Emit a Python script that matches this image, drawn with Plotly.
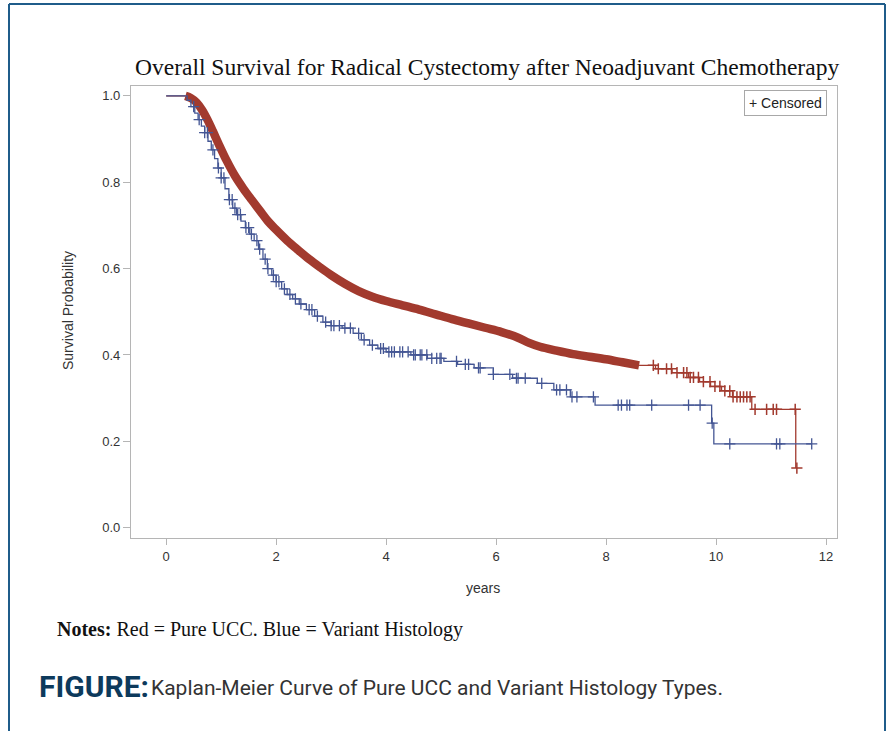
import numpy as np
import plotly.graph_objects as go

# ---------------- data ----------------
red_t = [0, 0.35, 0.45, 0.55, 0.65, 0.75, 0.85, 0.95, 1.1, 1.25, 1.4, 1.55, 1.7, 1.85, 2.0,
         2.2, 2.4, 2.6, 2.8, 3.0, 3.25, 3.5, 3.75, 4.0, 4.3, 4.6, 4.9, 5.2, 5.5, 5.8, 6.1,
         6.4, 6.6, 6.8, 7.1, 7.4, 7.7, 8.0, 8.3, 8.6, 8.9, 9.2, 9.5, 9.7, 9.9, 10.1, 10.3,
         10.65, 11.45]
red_s = [1.0, 1.0, 0.995, 0.985, 0.968, 0.945, 0.918, 0.89, 0.85, 0.815, 0.786, 0.76, 0.735,
         0.71, 0.69, 0.665, 0.643, 0.622, 0.603, 0.585, 0.565, 0.548, 0.535, 0.525, 0.515,
         0.505, 0.494, 0.483, 0.473, 0.463, 0.453, 0.44, 0.428, 0.419, 0.41, 0.402, 0.396,
         0.39, 0.383, 0.376, 0.368, 0.359, 0.348, 0.338, 0.327, 0.317, 0.303, 0.274, 0.138]
red_dense_start = 0.35
red_dense_end = 8.6
red_censor = [8.86, 8.95, 9.10, 9.19, 9.29, 9.41, 9.47, 9.53, 9.59, 9.68, 9.77, 9.89, 9.98,
              10.07, 10.16, 10.25, 10.31, 10.38, 10.44, 10.5, 10.56, 10.62, 10.71, 10.92,
              11.04, 11.1, 11.44, 11.47]

blue_t = [0, 0.38, 0.45, 0.52, 0.58, 0.64, 0.70, 0.76, 0.82, 0.88, 0.94, 1.0, 1.07, 1.14,
          1.21, 1.28, 1.36, 1.44, 1.52, 1.6, 1.68, 1.76, 1.84, 1.92, 2.0, 2.1, 2.2, 2.3, 2.42,
          2.55, 2.7, 2.85, 3.0, 3.2, 3.4, 3.55, 3.7, 3.85, 4.0, 4.45, 4.75, 5.05, 5.3, 5.6,
          5.95, 6.3, 6.75, 7.05, 7.35, 7.8, 9.92, 9.96, 11.74]
blue_s = [1.0, 0.99, 0.975, 0.96, 0.945, 0.93, 0.915, 0.895, 0.875, 0.855, 0.833, 0.81,
          0.785, 0.76, 0.74, 0.725, 0.71, 0.695, 0.68, 0.665, 0.645, 0.622, 0.6, 0.585,
          0.57, 0.553, 0.54, 0.53, 0.518, 0.505, 0.49, 0.476, 0.468, 0.462, 0.45, 0.435,
          0.423, 0.415, 0.407, 0.40, 0.392, 0.385, 0.378, 0.37, 0.355, 0.346, 0.334, 0.319,
          0.303, 0.284, 0.242, 0.194, 0.194]
blue_censor = [0.5, 0.6, 0.7, 0.75, 0.85, 0.95, 1.0, 1.05, 1.15, 1.2, 1.25, 1.3, 1.35, 1.45,
               1.5, 1.55, 1.65, 1.7, 1.8, 1.85, 1.95, 2.0, 2.05, 2.15, 2.25, 2.35, 2.45, 2.6,
               2.65, 2.75, 2.9, 3.0, 3.05, 3.15, 3.25, 3.35, 3.5, 3.6, 3.75, 3.9, 3.95, 4.05,
               4.1, 4.15, 4.25, 4.3, 4.4, 4.5, 4.53, 4.62, 4.65, 4.74, 4.83, 4.92, 4.98, 5.0,
               5.28, 5.44, 5.5, 5.68, 5.71, 5.95, 6.25, 6.37, 6.4, 6.53, 6.83, 7.1, 7.16,
               7.28, 7.38, 7.47, 7.77, 8.22, 8.28, 8.38, 8.43, 8.83, 9.5, 9.71, 9.93, 10.25,
               11.1, 11.16, 11.74]

x_ticks = [0, 2, 4, 6, 8, 10, 12]
y_ticks = [0.0, 0.2, 0.4, 0.6, 0.8, 1.0]

title_text = "Overall Survival for Radical Cystectomy after Neoadjuvant Chemotherapy"
x_title = "years"
y_title = "Survival Probability"
notes_text = "<b>Notes:</b> Red = Pure UCC. Blue = Variant Histology"
fig_label = "FIGURE:"
fig_caption = "Kaplan-Meier Curve of Pure UCC and Variant Histology Types."

RED = "#A23A2E"
BLUE = "#445694"


def step_value(ts, ss, t):
    i = np.searchsorted(np.asarray(ts), t, side="right") - 1
    return float(np.asarray(ss)[max(i, 0)])


# ---------------- layout geometry ----------------
W, H = 888, 731
L, R, T, B = 131, 51, 86, 193
PW, PH = W - L - R, H - T - B


def px(x):
    return (x - L) / PW


def py(y):
    return (H - B - y) / PH


fig = go.Figure()

# thin step parts of pure UCC (before and after the dense band)
thin_x, thin_y = [], []
for t, s in zip(red_t, red_s):
    if t <= red_dense_start:
        thin_x.append(t); thin_y.append(s)
thin_x.append(None); thin_y.append(None)
for t, s in zip(red_t, red_s):
    if t >= red_dense_end:
        thin_x.append(t); thin_y.append(s)
fig.add_trace(go.Scatter(x=thin_x, y=thin_y, mode="lines", connectgaps=False,
                         line=dict(color=RED, width=1.3, shape="hv"), showlegend=False))

# thick band (dense censor marks) of pure UCC
dense_t = [t for t in red_t if red_dense_start <= t <= red_dense_end]
dense_s = [step_value(red_t, red_s, t) for t in dense_t]
fig.add_trace(go.Scatter(x=dense_t, y=dense_s, mode="lines",
                         line=dict(color=RED, width=8.5, shape="spline"), showlegend=False))
fig.add_trace(go.Scatter(x=red_censor,
                         y=[step_value(red_t, red_s, t) for t in red_censor],
                         mode="markers",
                         marker=dict(symbol="cross-thin", size=8, line=dict(color=RED, width=1.5)),
                         showlegend=False))

fig.add_trace(go.Scatter(x=blue_t, y=blue_s, mode="lines", line=dict(color=BLUE, width=1.3, shape="hv"),
                         showlegend=False))
fig.add_trace(go.Scatter(x=blue_censor, y=[step_value(blue_t, blue_s, t) for t in blue_censor],
                         mode="markers",
                         marker=dict(symbol="cross-thin", size=8, line=dict(color=BLUE, width=1.3)),
                         showlegend=False))

axis_font = dict(family="Liberation Sans, Arial, sans-serif", size=13, color="#333333")

fig.update_xaxes(range=[-0.64, 12.2], tickvals=x_ticks, ticktext=[str(v) for v in x_ticks],
                 showgrid=False, zeroline=False, showline=True, linecolor="#b5b5b5", linewidth=1.3,
                 mirror=True, ticks="outside", ticklen=6, tickcolor="#b5b5b5", tickfont=axis_font)
fig.update_yaxes(range=[-0.024, 1.023], tickvals=y_ticks, ticktext=["%.1f" % v for v in y_ticks],
                 showgrid=False, zeroline=False, showline=True, linecolor="#b5b5b5", linewidth=1.3,
                 mirror=True, ticks="outside", ticklen=7, tickcolor="#b5b5b5", tickfont=axis_font)

P = dict(xref="paper", yref="paper", showarrow=False)
annotations = [
    dict(P, x=px(487), y=py(67), text=title_text, xanchor="center", yanchor="middle",
         font=dict(family="Liberation Serif, Times New Roman, serif", size=23.5, color="#111111")),
    dict(P, x=px(785), y=py(103), text="+ Censored", xanchor="center", yanchor="middle",
         bordercolor="#a8a8a8", borderwidth=1, borderpad=4, bgcolor="white",
         font=dict(family="Liberation Sans, Arial, sans-serif", size=14, color="#222222")),
    dict(P, x=px(68), y=py(311), text=y_title, textangle=-90, xanchor="center", yanchor="middle",
         font=dict(family="Liberation Sans, Arial, sans-serif", size=14, color="#333333")),
    dict(P, x=px(483), y=py(588), text=x_title, xanchor="center", yanchor="middle",
         font=dict(family="Liberation Sans, Arial, sans-serif", size=14, color="#333333")),
    dict(P, x=px(55), y=py(629), text=notes_text, xanchor="left", yanchor="middle",
         font=dict(family="Liberation Serif, Times New Roman, serif", size=20, color="#111111")),
    dict(P, x=px(37), y=py(686), text="<b>" + fig_label + "</b>", xanchor="left", yanchor="middle",
         font=dict(family="Roboto, Liberation Sans, sans-serif", size=30, color="#0d3a5c")),
    dict(P, x=px(149), y=py(688), text=fig_caption, xanchor="left", yanchor="middle",
         font=dict(family="Roboto, Liberation Sans, sans-serif", size=21, color="#333333")),
]

shapes = [
    dict(type="line", xref="paper", yref="paper", x0=px(9), x1=px(9), y0=py(4), y1=py(731),
         line=dict(color="#1f5c8a", width=2)),
    dict(type="line", xref="paper", yref="paper", x0=px(885), x1=px(885), y0=py(4), y1=py(731),
         line=dict(color="#1f5c8a", width=2)),
    dict(type="line", xref="paper", yref="paper", x0=px(9), x1=px(885), y0=py(4), y1=py(4),
         line=dict(color="#1f5c8a", width=2)),
]

fig.update_layout(width=W, height=H, margin=dict(l=L, r=R, t=T, b=B, pad=0),
                  paper_bgcolor="white", plot_bgcolor="white",
                  annotations=annotations, shapes=shapes, showlegend=False)

fig.write_html("out.html", config={"displayModeBar": False},
               post_script="document.body.style.margin='0';document.body.style.overflow='hidden';")
